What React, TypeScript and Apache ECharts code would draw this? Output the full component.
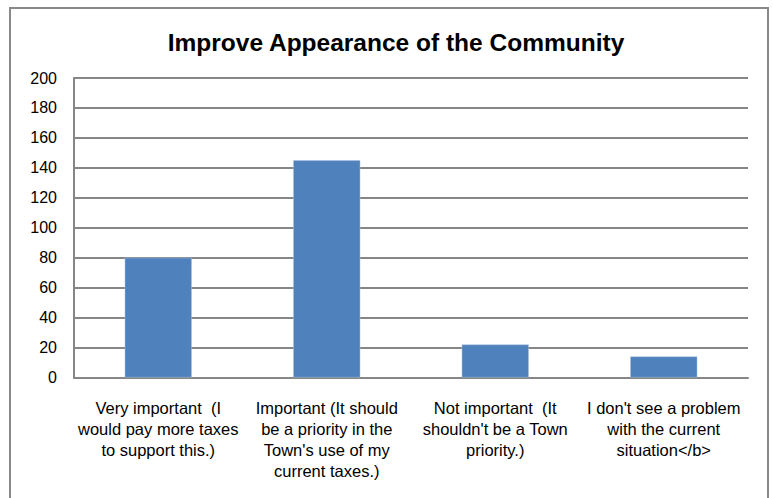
import React, { useEffect, useRef } from "react";
import * as echarts from "echarts";

const categories = [
  "Very important  (I\nwould pay more taxes\nto support this.)",
  "Important (It should\nbe a priority in the\nTown's use of my\ncurrent taxes.)",
  "Not important  (It\nshouldn't be a Town\npriority.)",
  "I don't see a problem\nwith the current\nsituation</b>",
];
const values = [80, 145, 22, 14];
const yTicks = { min: 0, max: 200, interval: 20 };
const titleText = "Improve Appearance of the Community";

const FONT = "'Liberation Sans', Arial, sans-serif";

export default function App() {
  const ref = useRef<HTMLDivElement>(null);
  useEffect(() => {
    if (!ref.current) return;
    const chart = echarts.init(ref.current, null, { renderer: "svg" });
    chart.setOption({
      animation: false,
      backgroundColor: "#ffffff",
      title: {
        text: titleText,
        left: 391,
        top: 25,
        textAlign: "center",
        textStyle: { fontFamily: FONT, fontSize: 24.5, fontWeight: "bold", color: "#000" },
      },
      graphic: [
        {
          type: "rect",
          shape: { x: 10, y: 8, width: 758, height: 500 },
          style: { fill: "none", stroke: "#898989", lineWidth: 2 },
          silent: true,
        },
      ],
      grid: { left: 74, right: 25, top: 78, bottom: 120.5, containLabel: false },
      xAxis: {
        type: "category",
        data: categories,
        axisLine: { show: true, lineStyle: { color: "#868686", width: 2 } },
        axisTick: { show: false },
        axisLabel: {
          interval: 0,
          margin: 20,
          fontFamily: FONT,
          fontSize: 16.5,
          lineHeight: 21,
          color: "#000",
          align: "center",
        },
      },
      yAxis: {
        type: "value",
        min: yTicks.min,
        max: yTicks.max,
        interval: yTicks.interval,
        axisLine: { show: true, lineStyle: { color: "#868686", width: 2 } },
        axisTick: { show: false },
        splitLine: { show: true, lineStyle: { color: "#868686", width: 2 } },
        axisLabel: { fontFamily: FONT, fontSize: 16, color: "#000", margin: 17 },
      },
      series: [
        {
          type: "bar",
          data: values,
          barWidth: 67,
          itemStyle: { color: "#4F81BD", borderColor: "#A7C0DE", borderWidth: 0.5 },
        },
      ],
    });
    return () => chart.dispose();
  }, []);
  return (
    <div
      ref={ref}
      style={{ position: "fixed", left: 0, top: 0, width: 773, height: 498 }}
    />
  );
}
